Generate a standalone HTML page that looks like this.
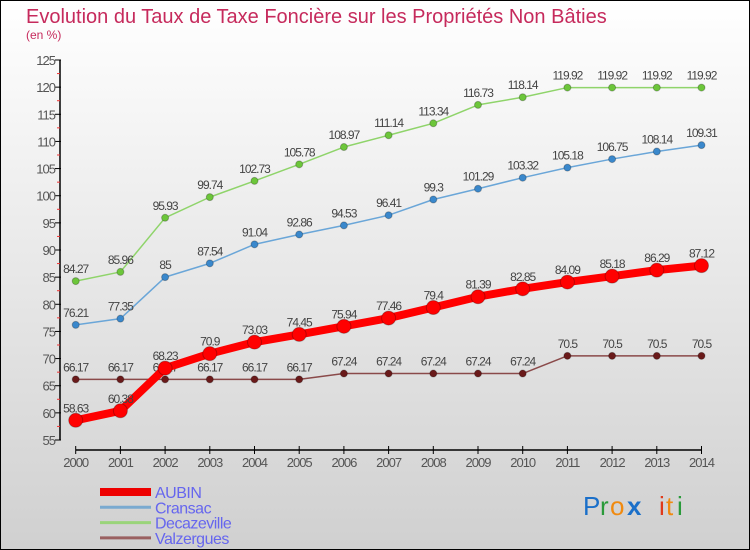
<!DOCTYPE html>
<html><head><meta charset="utf-8"><style>
body{margin:0}
#c{width:750px;height:550px;position:relative;box-sizing:border-box;border:1px solid #000;background:linear-gradient(#fff,#d0d0d0);font-family:"Liberation Sans",sans-serif;overflow:hidden}
</style></head><body>
<div id="c">
<svg id="s" width="750" height="550" style="position:absolute;left:-1px;top:-1px">
<text x="26" y="23" font-size="20" fill="#c62a5c">Evolution du Taux de Taxe Foncière sur les Propriétés Non Bâties</text>
<text x="26" y="39" font-size="12" fill="#c62a5c">(en %)</text>
<g id="axes"></g><g id="series"></g><g id="legend"></g>
<g font-size="26" font-family="Liberation Sans,sans-serif">
<text x="583" y="515" fill="#1a6fc9">P</text><text x="600" y="515" fill="#2a9a3a">r</text><text x="610" y="515" fill="#f08a10">o</text><text x="627" y="515" fill="#1a6fc9" font-weight="bold">x</text><text x="659" y="515" fill="#e03a1a">i</text><text x="666" y="515" fill="#f08a10">t</text><text x="677" y="515" fill="#2a9a3a">i</text></g>
</svg></div>
<script>
const years=[2000,2001,2002,2003,2004,2005,2006,2007,2008,2009,2010,2011,2012,2013,2014];
const yTicks=[55,60,65,70,75,80,85,90,95,100,105,110,115,120,125];
const aubin=[58.63,60.38,68.23,70.9,73.03,74.45,75.94,77.46,79.4,81.39,82.85,84.09,85.18,86.29,87.12];
const cransac=[76.21,77.35,85,87.54,91.04,92.86,94.53,96.41,99.3,101.29,103.32,105.18,106.75,108.14,109.31];
const decazeville=[84.27,85.96,95.93,99.74,102.73,105.78,108.97,111.14,113.34,116.73,118.14,119.92,119.92,119.92,119.92];
const valzergues=[66.17,66.17,66.17,66.17,66.17,66.17,67.24,67.24,67.24,67.24,67.24,70.5,70.5,70.5,70.5];
const NS="http://www.w3.org/2000/svg";
const X=i=>75.7+i*44.7;
const Y=v=>440-(v-55)*380/70;
function mk(tag,attrs,parent,txt){const e=document.createElementNS(NS,tag);for(const k in attrs)e.setAttribute(k,attrs[k]);if(txt!=null)e.textContent=txt;parent.appendChild(e);return e;}
const ax=document.getElementById('axes');
const yl=mk('line',{x1:60,y1:Y(125),x2:60,y2:Y(55),stroke:'#000','stroke-width':1.5},ax);


yTicks.forEach((t,i)=>{
 mk('line',{x1:55,x2:61,y1:Y(t),y2:Y(t),stroke:'#000'},ax);
 if(i<yTicks.length-1)mk('line',{x1:57,x2:60,y1:Y(t+2.5),y2:Y(t+2.5),stroke:'#e33'},ax);
 const tx=mk('text',{x:55,y:Y(t)+5,'font-size':13,fill:'#555','text-anchor':'end','letter-spacing':'-1'},ax,t);
 
 
});
const xl=mk('line',{x1:X(0),x2:X(14),y1:450,y2:450,stroke:'#000','stroke-width':1.5},ax);


years.forEach((y,i)=>{
 mk('line',{x1:X(i),x2:X(i),y1:446,y2:454,stroke:'#000'},ax);
 const tx=mk('text',{x:X(i),y:467,'font-size':13,fill:'#555','text-anchor':'middle','letter-spacing':'-1'},ax,y);
 
 
});
const sg=document.getElementById('series');
function series(vals,name,line,dot,w,r){
 const g=mk('g',{},sg);
 
 
 const p=mk('polyline',{points:vals.map((v,i)=>X(i)+','+Y(v)).join(' '),fill:'none',stroke:line,'stroke-width':w,'stroke-linejoin':'round'},g);
 
 
 vals.forEach((v,i)=>{
  const c=mk('circle',{cx:X(i),cy:Y(v),r:r,fill:dot,stroke:'rgba(0,0,0,0.25)'},g);
  
  
  const t=mk('text',{x:X(i),y:Y(v)-8,'font-size':12,fill:'#444','text-anchor':'middle','letter-spacing':'-1'},g,v);
  
  
 });
}
series(decazeville,'decazeville','#8fd46a','#6cc63a',1.5,3.5);
series(cransac,'cransac','#6aa6d8','#3a88cc',1.5,3.5);
series(valzergues,'valzergues','#8a4a4a','#6a1a1a',1.5,3.5);
series(aubin,'aubin','#f00','#f00',8,7);
const lg=document.getElementById('legend');
[['AUBIN','#e00',8],['Cransac','#7aaad0',3],['Decazeville','#9ad47a',3],['Valzergues','#9a6060',3]].forEach((d,i)=>{
 const y=492+i*15.3;
 const g=mk('g',{},lg);
 
 
 mk('line',{x1:100,x2:151,y1:y,y2:y,stroke:d[1],'stroke-width':d[2]},g);
 mk('text',{x:155,y:y+6,'font-size':16,fill:'#6666ee','letter-spacing':'-0.5'},g,d[0]);
});
</script>
</body></html>
